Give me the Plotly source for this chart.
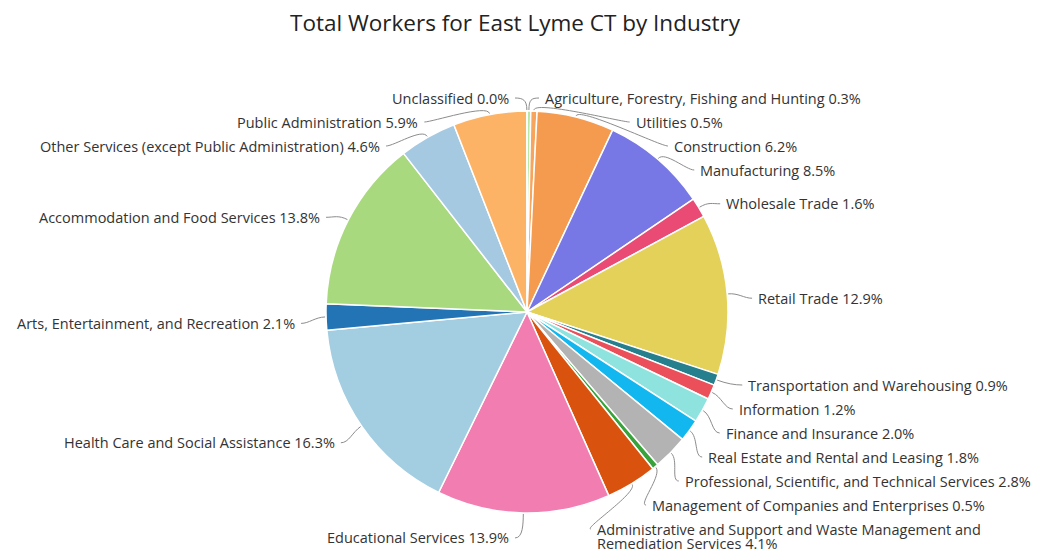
import math
import textwrap
import plotly.graph_objects as go

# data (share of total workers, %)
industries = [
    "Agriculture, Forestry, Fishing and Hunting",
    "Utilities",
    "Construction",
    "Manufacturing",
    "Wholesale Trade",
    "Retail Trade",
    "Transportation and Warehousing",
    "Information",
    "Finance and Insurance",
    "Real Estate and Rental and Leasing",
    "Professional, Scientific, and Technical Services",
    "Management of Companies and Enterprises",
    "Administrative and Support and Waste Management and Remediation Services",
    "Educational Services",
    "Health Care and Social Assistance",
    "Arts, Entertainment, and Recreation",
    "Accommodation and Food Services",
    "Other Services (except Public Administration)",
    "Public Administration",
    "Unclassified",
]
shares = [0.3, 0.5, 6.2, 8.5, 1.6, 12.9, 0.9, 1.2, 2.0, 1.8,
          2.8, 0.5, 4.1, 13.9, 16.3, 2.1, 13.8, 4.6, 5.9, 0.02]
colors = ["#b7e6a5", "#f7a55c", "#f59b4f", "#7778e5", "#e94b74",
          "#e4d15a", "#267f8d", "#ea4f5a", "#8fe3de", "#13b7ef",
          "#b3b3b3", "#37a33a", "#d9530f", "#f27eb1", "#a3cde1",
          "#2274b5", "#a9d97f", "#a6c9e2", "#fdb366", "#9e9e9e"]

# the page body has an 8px margin, so the figure is drawn 8px in from the corner
OFF = 8
W, H = 1046 - OFF, 552 - OFF
CX, CY, R = 527, 312, 201          # pie centre / radius in page px
EA, EB, EC = 226, 220, 318         # label ellipse (half-width, half-height, centre y)
GAP, TOP, BOTTOM = 24, 98, 543
FONT = 14.5
LINE_H = 14


def px(x, y):
    return (x - OFF) / W, 1 - (y - OFF) / H


fig = go.Figure()
dx0, dy1 = px(CX - R, CY - R)
dx1, dy0 = px(CX + R, CY + R)
fig.add_trace(go.Pie(
    labels=industries,
    values=shares,
    sort=False,
    direction="clockwise",
    rotation=0,
    marker=dict(colors=colors, line=dict(color="white", width=1.5)),
    textinfo="none",
    hoverinfo="label+percent",
    showlegend=False,
    domain=dict(x=[dx0, dx1], y=[dy0, dy1]),
))

# label placement from slice mid-angles
total = sum(shares)
labels = []
acc = 0
for name, v in zip(industries, shares):
    t = (acc + v / 2) / total * 2 * math.pi
    acc += v
    text = textwrap.wrap(f"{name} {v:.1f}%", 55)
    labels.append(dict(t=t, lines=text, side=1 if math.sin(t) > 0 else -1,
                       y=EC - EB * math.cos(t)))

for side in (1, -1):
    group = sorted([l for l in labels if l["side"] == side], key=lambda l: l["y"])
    prev = None
    for l in group:
        l["y"] = max(l["y"], TOP)
        if prev is not None:
            l["y"] = max(l["y"], prev["y"] + GAP + (len(prev["lines"]) - 1) * LINE_H)
        prev = l
    nxt = None
    for l in reversed(group):
        extra = (len(l["lines"]) - 1) * LINE_H
        l["y"] = min(l["y"], BOTTOM - extra)
        if nxt is not None:
            l["y"] = min(l["y"], nxt["y"] - GAP - extra)
        nxt = l

shapes, annotations = [], []
for l in labels:
    t, s, y = l["t"], l["side"], l["y"]
    dy = (y - EC) / EB
    lx = CX + s * max(12, EA * math.sqrt(max(0.0, 1 - dy * dy)))
    x0, y0 = CX + (R + 1) * math.sin(t), CY - (R + 1) * math.cos(t)
    x1, y1 = x0 + 10 * math.sin(t), y0 - 10 * math.cos(t)
    x2, y2 = lx - s * 8, y
    pts = [px(x0, y0), px(x1, y1), px(x2, y2), px(lx, y)]
    path = "M {},{} C {},{} {},{} {},{}".format(*[c for p in pts for c in p])
    shapes.append(dict(type="path", path=path, xref="paper", yref="paper",
                       line=dict(color="#8c8c8c", width=1)))
    for i, line in enumerate(l["lines"]):
        ax, ay = px(lx + s * 4, y + i * LINE_H)
        annotations.append(dict(
            x=ax, y=ay, xref="paper", yref="paper", showarrow=False,
            text=line, xanchor="left" if s > 0 else "right", yanchor="middle",
            font=dict(size=FONT, color="#333333"),
        ))

tx, ty = px(515, 23)
fig.update_layout(
    width=W, height=H,
    margin=dict(l=0, r=0, t=0, b=0),
    paper_bgcolor="white", plot_bgcolor="white",
    font=dict(family="Open Sans, sans-serif", color="#333333"),
    title=dict(text="Total Workers for East Lyme CT by Industry",
               x=tx, y=ty, xanchor="center", yanchor="middle",
               font=dict(size=22.5, color="#222222")),
    shapes=shapes,
    annotations=annotations,
)

fig.write_html("out.html")
